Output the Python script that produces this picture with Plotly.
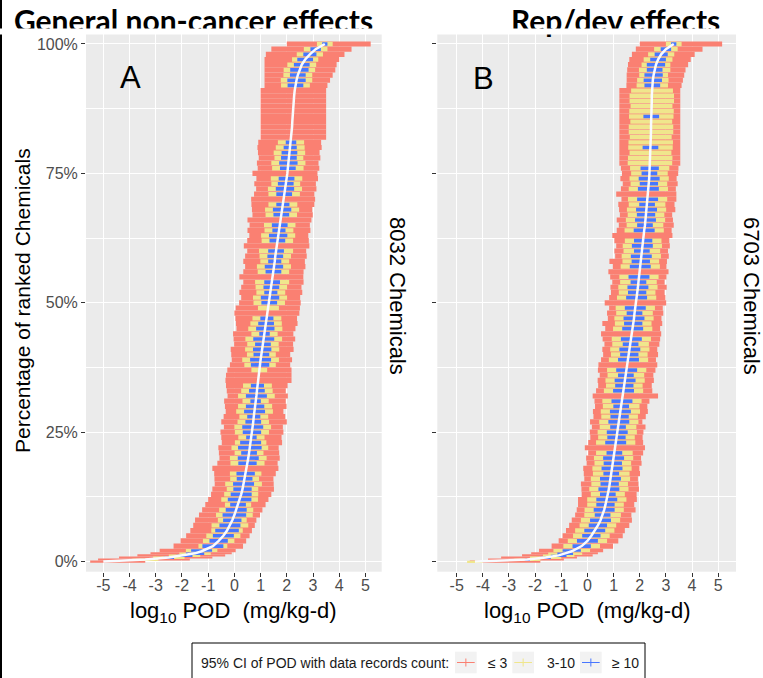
import numpy as np
import plotly.graph_objects as go

W, H = 763, 678
def px(x): return x / W
def py(y): return 1 - y / H

SALMON = "#FA8072"
KHAKI = "#F0E68C"
BLUE = "#4876FF"
FONT = "Liberation Sans, Arial, sans-serif"

# rank position (percentage of ranked chemicals) of each row
PCT = [0, 0.4, 0.8, 1.2, 1.6, 2, 3, 4, 5, 6, 7, 8, 9, 10,
       11, 12, 13, 14, 15, 16, 17, 18, 19, 20, 21, 22, 23, 24, 25, 26, 27, 28, 29, 30,
       31, 32, 33, 34, 35, 36, 37, 38, 39, 40, 41, 42, 43, 44, 45, 46, 47, 48, 49, 50,
       51, 52, 53, 54, 55, 56, 57, 58, 59, 60, 61, 62, 63, 64, 65, 66, 67, 68, 69, 70,
       71, 72, 73, 74, 75, 76, 77, 78, 79, 80, 81, 82, 83, 84, 85, 86, 87, 88, 89, 90,
       91, 92, 93, 94, 95, 96, 97, 98, 99, 100]

# ---- Panel A: General non-cancer effects (8032 chemicals) ----
A_MED = [-5.0, -3.4, -2.5, -1.9, -1.5,
         -1.25, -0.82, -0.6, -0.42, -0.28, -0.17, -0.08, 0.0, 0.07,
         0.14, 0.2, 0.26, 0.31, 0.35, 0.39, 0.43, 0.46, 0.5, 0.53,
         0.56, 0.59, 0.62, 0.65, 0.67, 0.7, 0.72, 0.74, 0.77, 0.79,
         0.81, 0.84, 0.86, 0.88, 0.91, 0.93, 0.95, 0.98, 1.0, 1.03,
         1.06, 1.09, 1.12, 1.15, 1.18, 1.21, 1.24, 1.27, 1.3, 1.33,
         1.36, 1.39, 1.41, 1.44, 1.46, 1.49, 1.51, 1.54, 1.56, 1.59,
         1.61, 1.64, 1.67, 1.7, 1.73, 1.76, 1.79, 1.82, 1.85, 1.88,
         1.9, 1.93, 1.96, 1.99, 2.02, 2.04, 2.06, 2.08, 2.1, 2.13,
         2.16, 2.18, 2.19, 2.2, 2.21, 2.22, 2.23, 2.24, 2.26, 2.28,
         2.3, 2.33, 2.37, 2.42, 2.48, 2.57, 2.7, 2.88, 3.1, 3.45]
# CI (records <= 3) extent below / above the median
A_SLO = [0.5, 1.8, 1.9, 1.8, 1.7,
         1.6, 1.5, 1.45, 1.42, 1.4, 1.4, 1.42, 1.35, 1.3,
         1.25, 1.2, 1.15, 1.15, 1.1, 1.15, 1.2, 1.3, 1.15, 1.1,
         1.15, 1.2, 1.1, 1.15, 1.2, 1.1, 1.22, 1.15, 1.1, 1.15,
         1.2, 1.1, 1.15, 1.2, 1.25, 1.25, 1.22, 1.15, 1.1, 1.15,
         1.2, 1.1, 1.15, 1.2, 1.1, 1.15, 1.2, 1.27, 1.25, 1.15,
         1.1, 1.2, 1.15, 1.1, 1.27, 1.15, 1.1, 1.2, 1.15, 1.1,
         1.25, 1.15, 1.1, 1.2, 1.15, 1.26, 1.1, 1.15, 1.2, 1.24,
         1.15, 1.1, 1.2, 1.15, 1.33, 1.15, 1.2, 1.15, 1.2, 1.25,
         1.25, 1.18, 1.19, 1.2, 1.21, 1.22, 1.23, 1.24, 1.26, 1.28,
         1.3, 1.18, 1.22, 1.27, 1.33, 1.42, 1.55, 1.68, 1.69, 1.45]
A_SHI = [1.6, 1.7, 1.66, 1.55, 1.4,
         1.3, 1.15, 1.05, 1.0, 0.95, 0.95, 0.92, 0.98, 1.0,
         1.05, 1.1, 1.15, 1.2, 1.15, 1.1, 1.15, 1.22, 1.15, 1.2,
         1.15, 1.1, 1.2, 1.15, 1.2, 1.15, 1.28, 1.2, 1.1, 1.2,
         1.15, 1.2, 1.1, 1.15, 1.27, 1.25, 1.23, 1.15, 1.2, 1.1,
         1.2, 1.15, 1.2, 1.1, 1.15, 1.2, 1.15, 1.21, 1.2, 1.2,
         1.15, 1.2, 1.15, 1.2, 1.17, 1.15, 1.2, 1.15, 1.2, 1.15,
         1.25, 1.2, 1.15, 1.2, 1.15, 1.18, 1.2, 1.15, 1.2, 1.2,
         1.15, 1.2, 1.15, 1.2, 1.15, 1.2, 1.15, 1.2, 1.15, 1.2,
         1.15, 1.32, 1.31, 1.3, 1.29, 1.28, 1.27, 1.26, 1.24, 1.22,
         1.2, 1.22, 1.28, 1.33, 1.37, 1.33, 1.3, 1.32, 1.37, 1.75]
# CI half-width for records 3-10 and >= 10
A_YH = [0, 0.5, 0.6, 0.6, 0.6,
        0.6, 0.55, 0.6, 0.65, 0.6, 0.7, 0.55, 0.7, 0.65,
        0.5, 0.7, 0.65, 0.6, 0.7, 0.55, 0.6, 0, 0.65, 0.7,
        0.55, 0.7, 0.6, 0.5, 0.65, 0.7, 0.6, 0.55, 0.7, 0.65,
        0.5, 0.7, 0.6, 0.55, 0, 0, 0.3, 0.6, 0.7, 0.55,
        0.65, 0.6, 0.7, 0.5, 0.65, 0.6, 0.55, 0, 0.4, 0.6,
        0.65, 0.55, 0.6, 0.65, 0, 0.6, 0.65, 0.55, 0.6, 0.65,
        0, 0.6, 0.65, 0.55, 0.6, 0, 0.6, 0.65, 0.55, 0,
        0.6, 0.65, 0.55, 0.6, 0, 0.6, 0.65, 0.55, 0.6, 0.55,
        0.5, 0, 0, 0, 0, 0, 0, 0, 0, 0,
        0, 0.55, 0.6, 0.55, 0.6, 0.55, 0.5, 0.5, 0.45, 0.3]
A_BH = [0, 0, 0.2, 0.3, 0.35,
        0.4, 0.4, 0.35, 0.4, 0.45, 0.4, 0.35, 0.45, 0.4,
        0.3, 0.45, 0.4, 0.35, 0.4, 0.3, 0.35, 0, 0.35, 0.4,
        0.3, 0.45, 0.4, 0.2, 0.35, 0.4, 0.3, 0.25, 0.4, 0.35,
        0.2, 0.4, 0.3, 0.25, 0, 0, 0, 0.35, 0.4, 0.3,
        0.35, 0.3, 0.4, 0.2, 0.35, 0.3, 0.25, 0, 0, 0.3,
        0.35, 0.25, 0.3, 0.3, 0, 0.3, 0.35, 0.25, 0.3, 0.3,
        0, 0.3, 0.35, 0.25, 0.3, 0, 0.3, 0.35, 0.25, 0,
        0.3, 0.35, 0.3, 0.3, 0, 0.3, 0.35, 0.3, 0.3, 0.25,
        0.2, 0, 0, 0, 0, 0, 0, 0, 0, 0,
        0, 0.3, 0.35, 0.3, 0.35, 0.3, 0.3, 0.25, 0.2, 0.1]

# ---- Panel B: Rep/dev effects (6703 chemicals) ----
B_MED = [-4.3, -2.3, -1.6, -1.1, -0.85,
         -0.6, -0.22, 0.0, 0.15, 0.28, 0.4, 0.5, 0.58, 0.64,
         0.69, 0.74, 0.78, 0.82, 0.85, 0.88, 0.91, 0.94, 0.97, 1.0,
         1.03, 1.05, 1.08, 1.11, 1.14, 1.17, 1.2, 1.23, 1.26, 1.29,
         1.32, 1.35, 1.38, 1.41, 1.44, 1.47, 1.5, 1.53, 1.57, 1.6,
         1.62, 1.65, 1.68, 1.7, 1.73, 1.75, 1.78, 1.8, 1.83, 1.86,
         1.88, 1.9, 1.93, 1.95, 1.97, 2.0, 2.02, 2.04, 2.06, 2.08,
         2.1, 2.13, 2.15, 2.17, 2.2, 2.22, 2.24, 2.26, 2.28, 2.3,
         2.32, 2.33, 2.35, 2.36, 2.37, 2.38, 2.39, 2.4, 2.41, 2.41,
         2.42, 2.42, 2.43, 2.43, 2.44, 2.44, 2.45, 2.45, 2.46, 2.46,
         2.47, 2.48, 2.5, 2.53, 2.57, 2.62, 2.7, 2.82, 3.0, 3.3]
B_SLO = [0.2, 1.5, 1.7, 1.4, 1.3,
         1.25, 1.15, 1.1, 1.1, 1.1, 1.1, 1.1, 1.05, 1.05,
         1.05, 1.1, 1.0, 1.05, 1.1, 1.0, 1.05, 1.1, 1.0, 1.05,
         1.0, 1.15, 1.05, 1.0, 1.05, 1.0, 1.1, 1.0, 1.05, 1.0,
         1.05, 1.15, 1.05, 1.0, 1.05, 1.0, 1.1, 1.11, 1.05, 1.0,
         1.05, 1.0, 1.1, 1.18, 1.05, 1.18, 1.0, 1.05, 1.0, 1.2,
         1.05, 1.0, 1.05, 1.0, 1.1, 1.2, 1.05, 1.2, 1.0, 1.05,
         1.0, 1.1, 1.2, 1.05, 1.0, 1.1, 1.0, 1.05, 1.1, 1.0,
         1.22, 1.05, 1.0, 1.1, 1.05, 1.1, 1.17, 1.18, 1.19, 1.19,
         1.2, 1.2, 1.21, 1.21, 1.22, 1.22, 1.23, 1.23, 1.24, 1.24,
         1.25, 0.99, 1.0, 1.03, 1.05, 1.07, 1.1, 1.12, 1.15, 1.3]
B_SHI = [2.5, 1.4, 1.2, 1.3, 1.25,
         1.2, 1.2, 1.18, 1.2, 1.15, 1.2, 1.2, 1.1, 1.2,
         1.1, 1.15, 1.1, 1.15, 1.1, 1.05, 1.1, 1.05, 1.1, 1.05,
         1.1, 1.15, 1.05, 1.0, 1.0, 1.05, 0.9, 1.0, 1.05, 1.0,
         1.05, 1.35, 1.1, 1.05, 1.1, 1.05, 1.1, 1.14, 1.05, 1.1,
         1.05, 1.1, 1.1, 1.12, 1.05, 1.11, 1.05, 1.1, 1.05, 1.15,
         1.1, 1.05, 1.1, 1.0, 1.05, 1.1, 1.0, 1.0, 1.05, 1.0,
         1.05, 1.0, 1.1, 1.05, 1.1, 1.05, 1.0, 1.1, 1.05, 1.1,
         1.08, 1.05, 1.1, 1.05, 1.1, 1.1, 1.16, 1.15, 1.14, 1.14,
         1.13, 1.13, 1.12, 1.12, 1.11, 1.11, 1.1, 1.1, 1.09, 1.09,
         1.08, 1.12, 1.15, 1.17, 1.18, 1.23, 1.25, 1.28, 1.4, 1.85]
B_YH = [0.3, 0.5, 0.6, 0.6, 0.65,
        0.7, 0.7, 0.75, 0.7, 0.75, 0.7, 0.75, 0.7, 0.75,
        0.7, 0.75, 0.65, 0.75, 0.7, 0.75, 0.7, 0.75, 0.7, 0.75,
        0.7, 0, 0.75, 0.7, 0.75, 0.7, 0.75, 0.7, 0.75, 0.7,
        0.75, 0, 0.75, 0.7, 0.75, 0.7, 0.75, 0, 0.75, 0.7,
        0.75, 0.7, 0.75, 0, 0.75, 0.7, 0.75, 0.7, 0.75, 0,
        0.75, 0.7, 0.75, 0.7, 0.75, 0, 0.75, 0.7, 0.75, 0.7,
        0.75, 0.7, 0, 0.75, 0.7, 0.75, 0.7, 0.75, 0.7, 0.75,
        0, 0.75, 0.7, 0.75, 0.7, 0.75, 0.85, 0.85, 0.8, 0.85,
        0.85, 0.8, 0.85, 0.85, 0.8, 0.85, 0.85, 0.8, 0.85, 0.85,
        0.8, 0.6, 0.6, 0.55, 0.6, 0.55, 0.55, 0.5, 0.45, 0.3]
B_BH = [0, 0.1, 0.2, 0.3, 0.3,
        0.35, 0.35, 0.4, 0.35, 0.4, 0.35, 0.4, 0.3, 0.4,
        0.35, 0.4, 0.3, 0.4, 0.35, 0.4, 0.3, 0.4, 0.35, 0.4,
        0.3, 0, 0.4, 0.35, 0.4, 0.3, 0.4, 0.35, 0.4, 0.3,
        0.4, 0, 0.4, 0.35, 0.4, 0.3, 0.4, 0, 0.4, 0.35,
        0.4, 0.3, 0.4, 0, 0.4, 0.35, 0.4, 0.3, 0.4, 0,
        0.4, 0.35, 0.4, 0.3, 0.4, 0, 0.4, 0.35, 0.4, 0.3,
        0.4, 0.35, 0, 0.4, 0.3, 0.4, 0.35, 0.4, 0.3, 0.4,
        0, 0.4, 0.35, 0.4, 0.3, 0.35, 0, 0, 0, 0.3,
        0, 0, 0, 0, 0, 0.3, 0, 0, 0, 0,
        0, 0.3, 0.35, 0.35, 0.3, 0.35, 0.3, 0.25, 0.2, 0.1]

X_TICKS = [-5, -4, -3, -2, -1, 0, 1, 2, 3, 4, 5]
Y_TICKS = [0, 25, 50, 75, 100]
Y_TICKTEXT = ["0%", "25%", "50%", "75%", "100%"]
LEGEND_LABELS = ["\u2264 3", "3-10", "\u2265 10"]

# row bands (bar thickness along the rank axis)
p = np.array(PCT, float)
mid = (p[1:] + p[:-1]) / 2
lower = np.concatenate([[p[0] - (p[1] - p[0]) / 2], mid])
upper = np.concatenate([mid, [p[-1] + (p[-1] - p[-2]) / 2]])
yc = (lower + upper) / 2
hgt = upper - lower

fig = go.Figure()

def add_panel(med, slo, shi, yh, bh, xa, ya):
    med = np.array(med); slo = np.array(slo); shi = np.array(shi)
    yh = np.array(yh); bh = np.array(bh)
    lo = med - slo; hi = med + shi
    fig.add_trace(go.Bar(y=yc, x=hi - lo, base=lo, width=hgt, orientation="h",
                         marker=dict(color=SALMON, line=dict(width=0)),
                         name=LEGEND_LABELS[0], showlegend=False, xaxis=xa, yaxis=ya))
    m = yh > 0
    fig.add_trace(go.Bar(y=yc[m], x=2 * yh[m], base=med[m] - yh[m], width=hgt[m] * 0.85,
                         orientation="h", marker=dict(color=KHAKI, line=dict(width=0)),
                         name=LEGEND_LABELS[1], showlegend=False, xaxis=xa, yaxis=ya))
    m = bh > 0
    fig.add_trace(go.Bar(y=yc[m], x=2 * bh[m], base=med[m] - bh[m], width=hgt[m] * 0.7,
                         orientation="h", marker=dict(color=BLUE, line=dict(width=0)),
                         name=LEGEND_LABELS[2], showlegend=False, xaxis=xa, yaxis=ya))
    fig.add_trace(go.Scatter(x=med, y=p, mode="lines", line=dict(color="#F8FBFF", width=2.5),
                             showlegend=False, xaxis=xa, yaxis=ya, hoverinfo="skip"))

add_panel(A_MED, A_SLO, A_SHI, A_YH, A_BH, "x", "y")
add_panel(B_MED, B_SLO, B_SHI, B_YH, B_BH, "x2", "y2")

ydom = [py(571.7), py(34)]
common_x = dict(tickmode="array", tickvals=X_TICKS, ticktext=[str(v) for v in X_TICKS],
                showgrid=True, gridcolor="white", gridwidth=1.2, zeroline=False,
                ticks="outside", ticklen=4, tickwidth=1, tickcolor="#333333",
                ticklabelstandoff=-5,
                tickfont=dict(family=FONT, size=16, color="#4D4D4D"), showline=False)
common_y = dict(tickmode="array", tickvals=Y_TICKS, ticktext=Y_TICKTEXT, range=[-1.95, 101.93],
                showgrid=True, gridcolor="white", gridwidth=1.2, zeroline=False,
                ticks="outside", ticklen=4, tickwidth=1, tickcolor="#333333",
                tickfont=dict(family=FONT, size=16, color="#4D4D4D"), showline=False,
                minor=dict(tickmode="linear", tick0=0, dtick=12.5, showgrid=True,
                           gridcolor="white", gridwidth=1.2, ticks=""),
                domain=ydom)

fig.update_layout(
    width=W, height=H, autosize=False,
    margin=dict(l=0, r=0, t=0, b=0),
    paper_bgcolor="white", plot_bgcolor="#EBEBEB",
    barmode="overlay", showlegend=False,
    xaxis=dict(common_x, domain=[px(86), px(381.7)], range=[-5.66, 5.62], anchor="y"),
    yaxis=dict(common_y, anchor="x"),
    xaxis2=dict(common_x, domain=[px(437.3), px(736)], range=[-5.74, 5.68], anchor="y2"),
    yaxis2=dict(common_y, anchor="x2", showticklabels=False),
)

ann = []
def A(text, x, y, size, **kw):
    d = dict(text=text, x=px(x), y=py(y), xref="paper", yref="paper", showarrow=False,
             xanchor=kw.pop("xanchor", "center"), yanchor=kw.pop("yanchor", "middle"),
             font=dict(family=kw.pop("family", FONT), size=size, color=kw.pop("color", "black"),
                       weight=kw.pop("weight", "normal")))
    d.update(kw)
    ann.append(d)

# panel titles (bottom edge hidden by the white band above the panels)
A("General non-cancer effects", 12, 20.5, 30, family="Lato, sans-serif", weight="bold",
  xanchor="left")
A("Rep/dev effects", 509, 20.5, 30, family="Lato, sans-serif", weight="bold",
  xanchor="left")
ann.append(dict(text=" ", x=0.5, y=py(31.5), xref="paper", yref="paper", showarrow=False,
                width=W, height=5, bgcolor="white", borderpad=0, font=dict(size=3),
                xanchor="center", yanchor="middle"))
A("A", 130.3, 78, 31)
A("B", 483, 78.3, 31)
A("Percentage of ranked Chemicals", 22, 301, 21, textangle=-90)
A("log<sub>10</sub> POD\u00a0 (mg/kg-d)", 234, 612, 22)
A("log<sub>10</sub> POD\u00a0 (mg/kg-d)", 587, 612, 22)
A("8032 Chemicals", 397, 296, 22, textangle=90)
A("6703 Chemicals", 751, 296, 22, textangle=90)

# legend
A("95% CI of POD with data records count:", 199.3, 663.3, 14, xanchor="left", color="#1A1A1A")
shapes = [dict(type="rect", xref="paper", yref="paper", x0=px(192), x1=px(645),
               y0=py(700), y1=py(643), line=dict(color="black", width=1), fillcolor="white",
               layer="above"),
          dict(type="line", xref="paper", yref="paper", x0=px(1), x1=px(1), y0=0, y1=1,
               line=dict(color="black", width=2))]
keys = [(455, 486, SALMON), (512.3, 545, KHAKI), (580, 610, BLUE)]
for (kx, tx, col), lab in zip(keys, LEGEND_LABELS):
    shapes.append(dict(type="rect", xref="paper", yref="paper", x0=px(kx), x1=px(kx + 21.7),
                       y0=py(673.3), y1=py(651.7), line=dict(width=0), fillcolor="#F2F2F2",
                       layer="above"))
    shapes.append(dict(type="line", xref="paper", yref="paper", x0=px(kx + 2), x1=px(kx + 19.7),
                       y0=py(662.5), y1=py(662.5), line=dict(color=col, width=1), layer="above"))
    shapes.append(dict(type="line", xref="paper", yref="paper", x0=px(kx + 10.85), x1=px(kx + 10.85),
                       y0=py(666.5), y1=py(658.5), line=dict(color=col, width=1), layer="above"))
    A(lab, tx, 663.3, 14, xanchor="left", color="#1A1A1A")

fig.update_layout(annotations=ann, shapes=shapes)
fig.write_html("out.html", config={"displayModeBar": False},
               post_script="document.body.style.margin='0px';document.body.style.overflow='hidden';")
